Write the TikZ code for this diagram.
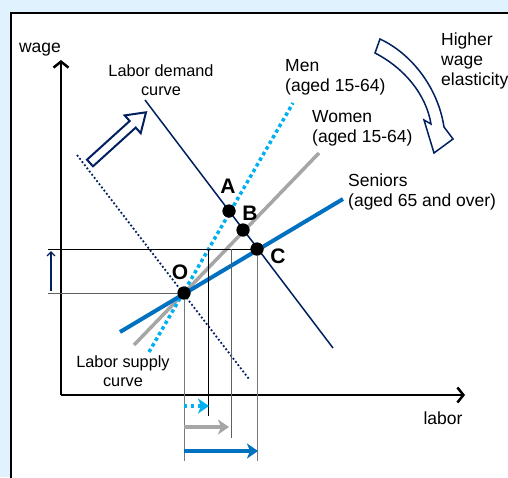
\documentclass[tikz,border=0pt]{standalone}
\usepackage{fontspec}
\setmainfont{Liberation Sans}
\usetikzlibrary{arrows.meta}

\definecolor{navy}{RGB}{0,32,96}
\definecolor{menblue}{RGB}{0,176,240}
\definecolor{womengray}{RGB}{166,166,166}
\definecolor{seniorblue}{RGB}{0,112,192}
\definecolor{guidegray}{RGB}{120,120,120}
\definecolor{bgblue}{RGB}{224,242,253}

\begin{document}
\begin{tikzpicture}[x=1pt, y=-1pt,
  lbl/.style={font=\fontsize{17.5}{20}\selectfont, inner sep=0pt, align=left},
  curvelbl/.style={font=\fontsize{16.3}{19}\selectfont, inner sep=0pt, align=center},
  pt/.style={font=\fontsize{21}{22}\selectfont\bfseries, inner sep=0pt},
  dot/.style={circle, fill=black, inner sep=0pt, minimum size=13pt},
  axis/.style={line width=2.5pt, -{Straight Barb[length=6pt, width=15pt, line width=2.5pt]}},
  guide/.style={line width=1pt},
  gain/.style={line width=3.5pt, -{Stealth[length=11pt, width=15pt, inset=3pt]}},
]
  \useasboundingbox (0,0) rectangle (508,477);
  \clip (0,0) rectangle (508,477);
  \fill[bgblue] (0,0) rectangle (508,477);
  \draw[line width=2pt, fill=white] (11,13) rectangle (540,500);

  % axes
  \coordinate (org) at (61,395);
  \coordinate (ytop) at (61,60);
  \coordinate (xend) at (465,395);
  \draw[axis] (org) -- (ytop);
  \draw[axis] (org) -- (xend);
  \node[lbl] (wage) at (40,50) {wage};
  \node[lbl] (labor) at (443,418) {labor};

  % demand curves
  \coordinate (d1) at (145,100);
  \coordinate (d2) at (333,348);
  \coordinate (d0a) at (77,155);
  \coordinate (d0b) at (249,379);
  \draw[navy, line width=1.8pt, dash pattern=on 1.8pt off 2.2pt] (d0a) -- (d0b);
  \draw[navy, line width=1.5pt] (d1) -- (d2);
  \node[curvelbl] (demand) at (161,80) {Labor demand\\curve};
  \draw[navy, line width=2pt, fill=white, line join=miter]
    (87.0,159.7) -- (129.7,121.0) -- (124.7,115.4) -- (146.0,112.3)
    -- (140.7,133.2) -- (135.7,127.6) -- (93.0,166.3) -- cycle;

  % supply curves
  \coordinate (m1) at (149,352);
  \coordinate (m2) at (293,103);
  \coordinate (w1) at (134,345);
  \coordinate (w2) at (319,153);
  \coordinate (s1) at (120,332);
  \coordinate (s2) at (343,199);
  \draw[womengray, line width=3.5pt] (w1) -- (w2);
  \draw[menblue, line width=3.5pt, dash pattern=on 3.5pt off 3pt] (m1) -- (m2);
  \draw[seniorblue, line width=4pt] (s1) -- (s2);
  \node[lbl, anchor=west] (men) at (285,77) {Men\\(aged 15-64)};
  \node[lbl, anchor=west] (women) at (312,128) {Women\\(aged 15-64)};
  \node[lbl, anchor=west] (seniors) at (348,192) {Seniors\\(aged 65 and over)};
  \node[curvelbl] (supply) at (123,371) {Labor supply\\curve};

  % elasticity arrow
  \draw[navy, line width=1.5pt, fill=white, line join=miter]
    (380,39) .. controls (412,54) and (438,88) .. (444,127) -- (453,139)
    -- (434,153) -- (424,120) -- (431,124)
    .. controls (426,94) and (404,68) .. (375,53) -- cycle;
  \node[lbl, anchor=west] (elast) at (441,61) {Higher\\wage\\elasticity};

  % equilibria
  \node[dot] (O) at (184,293) {};
  \node[dot] (A) at (229,211) {};
  \node[dot] (B) at (243,230) {};
  \node[dot] (C) at (257,249) {};

  % guides
  \coordinate (hC) at (48,249);
  \coordinate (hO) at (48,293);
  \coordinate (vO) at (184,461);
  \coordinate (vA0) at (208,249);
  \coordinate (vA) at (208,416);
  \coordinate (vB0) at (231,249);
  \coordinate (vB) at (231,438);
  \coordinate (vC) at (257,461);
  \draw[guide] (hC) -- (C.center);
  \draw[guide, guidegray!80!black] (hO) -- (O.center);
  \draw[guide, guidegray] (O.center) -- (vO);
  \draw[guide] (vA0) -- (vA);
  \draw[guide, guidegray!80!black] (vB0) -- (vB);
  \draw[guide, guidegray] (C.center) -- (vC);
  \coordinate (up0) at (51,291);
  \coordinate (up1) at (51,251);
  \draw[navy, line width=1.3pt, -{Straight Barb[length=4pt, width=8pt]}] (up0) -- (up1);

  % dots again, on top of the guides
  \fill (O) circle (6.5pt);
  \fill (A) circle (6.5pt);
  \fill (B) circle (6.5pt);
  \fill (C) circle (6.5pt);
  \node[pt] (labO) at (180,272) {O};
  \node[pt] (labA) at (228,186) {A};
  \node[pt] (labB) at (250,213) {B};
  \node[pt] (labC) at (278,256) {C};

  % employment gains
  \coordinate (gm0) at (184,406);
  \coordinate (gm1) at (209,406);
  \coordinate (gw0) at (184,427);
  \coordinate (gw1) at (229,427);
  \coordinate (gs0) at (184,451);
  \coordinate (gs1) at (258,451);
  \draw[gain, menblue, dash pattern=on 3pt off 4pt] (gm0) -- (gm1);
  \draw[gain, womengray] (gw0) -- (gw1);
  \draw[gain, seniorblue] (gs0) -- (gs1);
\end{tikzpicture}
\end{document}
